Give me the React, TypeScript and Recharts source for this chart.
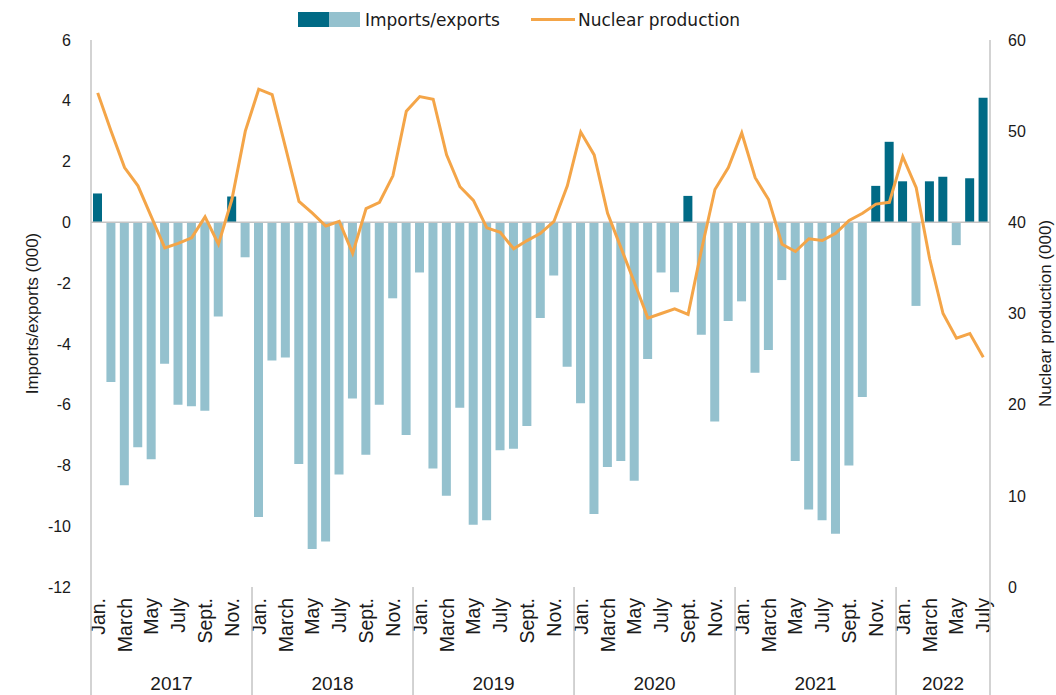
import React from "react";
import { ComposedChart, Bar, Line, XAxis, YAxis, ReferenceLine, Cell } from "recharts";

const FONT = '"Liberation Sans", Arial, sans-serif';
const LEGEND_FONT = '"DejaVu Sans", "Liberation Sans", sans-serif';
const DARK = "#006a85";
const LIGHT = "#94c1ce";
const ORANGE = "#f4a548";
const AXIS = "#c4c4c4";
const TEXT = "#1a1a1a";

const years = ["2017", "2018", "2019", "2020", "2021", "2022"];
const monthLabels = ["Jan.", "", "March", "", "May", "", "July", "", "Sept.", "", "Nov.", ""];

// imports/exports (000), monthly
const imports2017 = [0.95, -5.25, -8.65, -7.4, -7.8, -4.65, -6.0, -6.05, -6.2, -3.1, 0.85, -1.15];
const imports2018 = [-9.7, -4.55, -4.45, -7.95, -10.75, -10.5, -8.3, -5.8, -7.65, -6.0, -2.5, -7.0];
const imports2019 = [-1.65, -8.1, -9.0, -6.1, -9.95, -9.8, -7.5, -7.45, -6.7, -3.15, -1.75, -4.75];
const imports2020 = [-5.95, -9.6, -8.05, -7.85, -8.5, -4.5, -1.65, -2.3, 0.87, -3.7, -6.55, -3.25];
const imports2021 = [-2.6, -4.95, -4.2, -1.9, -7.85, -9.45, -9.8, -10.25, -8.0, -5.75, 1.2, 2.65];
const imports2022 = [1.35, -2.75, 1.35, 1.5, -0.75, 1.45, 4.1];

// nuclear production (000), monthly
const nuclear2017 = [54.2, 50.0, 46.0, 44.0, 40.6, 37.2, 37.7, 38.3, 40.6, 37.6, 42.5, 50.0];
const nuclear2018 = [54.6, 54.0, 48.2, 42.3, 41.0, 39.6, 40.1, 36.6, 41.5, 42.2, 45.1, 52.2];
const nuclear2019 = [53.8, 53.5, 47.4, 43.9, 42.4, 39.4, 38.9, 37.1, 38.0, 38.8, 40.1, 44.0];
const nuclear2020 = [49.9, 47.4, 41.0, 37.2, 33.4, 29.5, 30.0, 30.5, 29.9, 37.0, 43.6, 46.0];
const nuclear2021 = [49.8, 44.9, 42.5, 37.6, 36.8, 38.2, 38.0, 38.8, 40.2, 41.0, 42.0, 42.2];
const nuclear2022 = [47.2, 43.8, 36.0, 30.0, 27.3, 27.8, 25.2];

const leftTicks = [-12, -10, -8, -6, -4, -2, 0, 2, 4, 6];
const rightTicks = [0, 10, 20, 30, 40, 50, 60];

const importsByYear = [imports2017, imports2018, imports2019, imports2020, imports2021, imports2022];
const nuclearByYear = [nuclear2017, nuclear2018, nuclear2019, nuclear2020, nuclear2021, nuclear2022];

const data = years
  .flatMap((yr, yi) =>
    importsByYear[yi].map((v, m) => ({
      key: `${yr}-${m + 1}`,
      month: monthLabels[m],
      imports: v,
      nuclear: nuclearByYear[yi][m],
    }))
  )
  .map((d, i) => ({ ...d, idx: i }));

// year boundaries and centres on the month index scale
const yearStarts: number[] = [];
let acc = 0;
importsByYear.forEach((arr) => {
  yearStarts.push(acc);
  acc += arr.length;
});
const total = acc;
const boundaries = [...yearStarts, total];
const centers = importsByYear.map((arr, i) => yearStarts[i] + arr.length / 2);
const yearTicks = [...boundaries, ...centers].sort((a, b) => a - b);

const MONTH_H = 75;
const YEAR_H = 33;

function MonthTick(props: any) {
  const { x, y, payload } = props;
  const label = data[payload.index]?.month;
  if (!label) return null;
  const ty = y + 11;
  return (
    <text
      x={x}
      y={ty}
      transform={`rotate(-90, ${x}, ${ty})`}
      textAnchor="end"
      dominantBaseline="central"
      fontSize={19.5}
      fill={TEXT}
      fontFamily={FONT}
    >
      {label}
    </text>
  );
}

function YearTick(props: any) {
  const { x, y, payload } = props;
  const v = payload.value;
  if (boundaries.includes(v)) {
    return <line x1={x} x2={x} y1={y - MONTH_H} y2={y + YEAR_H} stroke={AXIS} strokeWidth={1.5} />;
  }
  const yi = centers.indexOf(v);
  if (yi < 0) return null;
  return (
    <text x={x} y={y + 28} textAnchor="middle" fontSize={19} fill={TEXT} fontFamily={FONT}>
      {years[yi]}
    </text>
  );
}

export default function App() {
  return (
    <div style={{ position: "absolute", left: 0, top: 0, width: 1056, height: 695, fontFamily: FONT }}>
      <ComposedChart
        width={1056}
        height={695}
        data={data}
        margin={{ top: 40, right: -44, bottom: 0, left: -27 }}
      >
        <XAxis
          dataKey="key"
          interval={0}
          tick={<MonthTick />}
          tickLine={false}
          axisLine={false}
          height={MONTH_H}
          tickSize={0}
          tickMargin={0}
        />
        <XAxis
          xAxisId="yr"
          type="number"
          dataKey="idx"
          domain={[0, total]}
          ticks={yearTicks}
          interval={0}
          tick={<YearTick />}
          tickLine={false}
          axisLine={false}
          height={YEAR_H}
          tickSize={0}
          tickMargin={0}
        />
        <YAxis
          yAxisId="left"
          domain={[-12, 6]}
          ticks={leftTicks}
          interval={0}
          width={118}
          tickLine={false}
          tickMargin={14}
          axisLine={{ stroke: AXIS, strokeWidth: 1.5 }}
          tick={{ fill: TEXT, fontSize: 16, fontFamily: FONT }}
          label={{
            value: "Imports/exports (000)",
            angle: -90,
            position: "center",
            style: { fill: TEXT, fontSize: 17, fontFamily: FONT },
          }}
        />
        <YAxis
          yAxisId="right"
          orientation="right"
          domain={[0, 60]}
          ticks={rightTicks}
          interval={0}
          width={110}
          tickLine={false}
          tickMargin={12}
          axisLine={{ stroke: AXIS, strokeWidth: 1.5 }}
          tick={{ fill: TEXT, fontSize: 16, fontFamily: FONT }}
          label={{
            value: "Nuclear production (000)",
            angle: -90,
            position: "center",
            style: { fill: TEXT, fontSize: 17, fontFamily: FONT },
          }}
        />
        <ReferenceLine yAxisId="left" y={0} stroke={AXIS} strokeWidth={1.5} />
        <Bar yAxisId="left" dataKey="imports" barSize={9} isAnimationActive={false}>
          {data.map((d, i) => (
            <Cell key={i} fill={d.imports >= 0 ? DARK : LIGHT} />
          ))}
        </Bar>
        <Line
          yAxisId="right"
          dataKey="nuclear"
          type="linear"
          stroke={ORANGE}
          strokeWidth={3}
          dot={false}
          isAnimationActive={false}
        />
      </ComposedChart>
      <div
        style={{
          position: "absolute",
          top: 9,
          left: 298,
          height: 21,
          display: "flex",
          alignItems: "center",
          fontSize: 17,
          fontFamily: LEGEND_FONT,
          color: TEXT,
          whiteSpace: "nowrap",
        }}
      >
        <span style={{ display: "inline-block", width: 31, height: 15, background: DARK }} />
        <span style={{ display: "inline-block", width: 31, height: 15, background: LIGHT, marginRight: 5 }} />
        <span>Imports/exports</span>
        <span style={{ display: "inline-block", width: 44, height: 3, background: ORANGE, marginLeft: 31, marginRight: 3 }} />
        <span>Nuclear production</span>
      </div>
    </div>
  );
}
